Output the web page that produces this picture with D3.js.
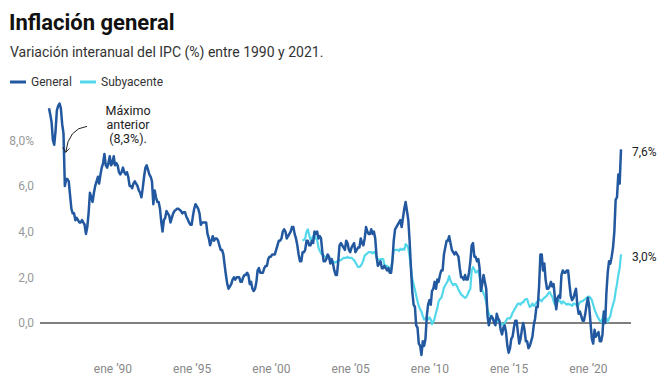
<!DOCTYPE html>
<html><head><meta charset="utf-8">
<script src="https://cdn.jsdelivr.net/npm/d3@7"></script>
<style>
body{margin:0;background:#fff;}
svg{display:block;font-family:Roboto, "Noto Sans", sans-serif;}
</style>
</head><body>
<svg id="chart" width="672" height="392"></svg>
<script>
const titleText = "Inflación general";
const subtitleText = "Variación interanual del IPC (%) entre 1990 y 2021.";
const seriesNames = ["General", "Subyacente"];
const seriesColors = ["#22589f", "#53d8eb"];
const generalStart = [1986, 0];
const subyacenteStart = [2002, 0];

// Monthly year-on-year CPI change (%), Jan 1986 - Feb 2022
const general = [
  9.4, 9.1, 8.8, 8.0, 7.8, 8.4, 9.3, 9.5, 9.6, 9.4, 8.7, 8.3,
  6.0, 6.3, 6.3, 6.2, 5.6, 5.0, 4.8, 4.8, 4.5, 4.6, 4.5, 4.4,
  4.4, 4.5, 4.4, 4.3, 3.9, 4.2, 4.8, 5.7, 5.5, 5.3, 5.7, 6.0,
  6.2, 6.4, 6.1, 6.5, 6.8, 7.0, 7.4, 6.9, 6.8, 7.0, 7.3, 6.9,
  7.0, 7.3, 6.9, 7.0, 6.9, 6.6, 6.5, 6.6, 6.8, 6.6, 6.5, 6.6,
  6.4, 6.0, 6.0, 5.9, 6.1, 6.2, 6.1, 6.0, 5.8, 5.7, 5.5, 5.9,
  6.4, 6.8, 6.9, 6.7, 6.5, 6.4, 6.2, 5.2, 5.8, 5.5, 5.3, 5.3,
  5.0, 4.4, 4.0, 4.5, 4.6, 4.9, 4.8, 4.7, 4.4, 4.6, 4.8, 4.9,
  4.95, 5.0, 5.0, 4.95, 4.9, 4.8, 4.85, 4.85, 4.65, 4.55, 4.4, 4.3,
  4.3, 4.7, 5.0, 5.2, 5.1, 5.0, 4.8, 4.3, 4.4, 4.4, 4.4, 4.4,
  3.9, 3.7, 3.4, 3.6, 3.8, 3.6, 3.7, 3.7, 3.6, 3.4, 3.2, 3.2,
  3.0, 2.5, 2.1, 1.7, 1.5, 1.6, 1.7, 1.9, 2.0, 1.9, 2.0, 2.0,
  2.0, 1.8, 1.8, 2.0, 2.1, 2.1, 2.2, 2.1, 1.7, 1.8, 1.5, 1.4,
  1.5, 1.8, 2.3, 2.4, 2.2, 2.2, 2.2, 2.4, 2.5, 2.5, 2.8, 2.9,
  2.9, 3.0, 3.0, 3.0, 3.2, 3.4, 3.6, 3.6, 3.7, 4.0, 4.1, 4.0,
  3.7, 3.8, 3.9, 4.0, 4.2, 4.2, 3.9, 3.7, 3.4, 3.0, 2.7, 2.7,
  3.1, 3.1, 3.2, 3.6, 3.6, 3.4, 3.4, 3.6, 3.5, 4.0, 3.9, 4.0,
  3.7, 3.8, 3.7, 3.1, 2.7, 2.7, 2.8, 3.0, 2.9, 2.6, 2.8, 2.6,
  2.3, 2.1, 2.1, 2.7, 3.4, 3.5, 3.4, 3.3, 3.2, 3.6, 3.5, 3.2,
  3.1, 3.3, 3.4, 3.5, 3.1, 3.2, 3.3, 3.3, 3.7, 3.5, 3.4, 3.7,
  4.2, 4.0, 3.9, 3.9, 4.1, 3.9, 4.0, 3.7, 2.9, 2.5, 2.6, 2.7,
  2.4, 2.4, 2.5, 2.4, 2.3, 2.4, 2.2, 2.2, 2.7, 3.6, 4.1, 4.2,
  4.3, 4.4, 4.5, 4.2, 4.6, 5.0, 5.3, 4.9, 4.5, 3.6, 2.4, 1.4,
  0.8, 0.7, -0.1, -0.2, -0.9, -1.0, -1.4, -0.8, -1.0, -0.7, 0.3, 0.8,
  1.0, 0.8, 1.4, 1.5, 1.8, 1.5, 1.9, 1.8, 2.1, 2.3, 2.3, 3.0,
  3.3, 3.6, 3.6, 3.8, 3.5, 3.2, 3.1, 3.0, 3.1, 3.0, 2.9, 2.4,
  2.0, 2.0, 1.9, 2.1, 1.9, 1.9, 2.2, 2.7, 3.4, 3.5, 2.9, 2.9,
  2.7, 2.8, 2.4, 1.4, 1.7, 2.1, 1.8, 1.5, 0.3, -0.1, 0.2, 0.3,
  0.2, 0.0, -0.1, 0.4, 0.2, 0.1, -0.3, -0.5, -0.2, -0.1, -0.4, -1.0,
  -1.3, -1.1, -0.7, -0.6, -0.2, 0.1, 0.1, -0.4, -0.9, -0.7, -0.3, 0.0,
  -0.3, -0.8, -0.8, -1.1, -1.0, -0.8, -0.6, -0.1, 0.2, 0.7, 0.7, 1.6,
  3.0, 3.0, 2.3, 2.6, 1.9, 1.5, 1.5, 1.6, 1.8, 1.6, 1.7, 1.1,
  0.6, 1.1, 1.2, 1.1, 2.1, 2.3, 2.2, 2.2, 2.3, 2.3, 1.7, 1.2,
  1.0, 1.1, 1.3, 1.5, 0.8, 0.4, 0.5, 0.3, 0.1, 0.1, 0.4, 0.8,
  1.1, 0.7, 0.0, -0.7, -0.9, -0.3, -0.6, -0.5, -0.4, -0.8, -0.8, -0.5,
  0.5, 0.0, 1.3, 2.2, 2.7, 2.6, 2.9, 3.3, 4.0, 5.4, 5.5, 6.5,
  6.1, 7.6
];

// Monthly core inflation (%), Jan 2002 - Feb 2022
const subyacente = [
  3.6, 3.65, 3.7, 4.0, 4.1, 3.85, 3.65, 3.7, 3.8, 3.85, 3.7, 3.65,
  3.3, 3.15, 3.05, 3.0, 2.95, 2.9, 2.9, 2.85, 2.85, 2.8, 2.75, 2.7,
  2.65, 2.65, 2.7, 2.7, 2.75, 2.75, 2.8, 2.85, 2.85, 2.85, 2.9, 2.85,
  2.85, 2.85, 2.8, 2.75, 2.65, 2.55, 2.45, 2.45, 2.5, 2.6, 2.75, 2.95,
  3.0, 3.05, 3.1, 3.1, 3.1, 3.05, 3.1, 3.1, 2.85, 2.8, 2.75, 2.8,
  2.8, 2.8, 2.55, 2.5, 2.5, 2.45, 2.4, 2.35, 2.8, 3.15, 3.2, 3.2,
  3.2, 3.15, 3.25, 3.2, 3.25, 3.2, 3.45, 3.4, 3.27, 2.9, 2.45, 1.95,
  1.7, 1.45, 1.2, 0.95, 0.75, 0.6, 0.5, 0.3, 0.15, 0.2, 0.2, 0.15,
  0.25, 0.15, -0.05, 0.05, 0.2, 0.45, 0.65, 0.95, 1.05, 1.1, 1.3, 1.55,
  1.65, 1.75, 1.85, 2.05, 1.85, 1.75, 1.65, 1.7, 1.7, 1.6, 1.45, 1.35,
  1.25, 1.2, 1.15, 1.1, 1.15, 1.25, 1.4, 1.5, 2.3, 2.45, 2.35, 2.2,
  2.25, 2.3, 2.05, 1.7, 1.45, 1.3, 1.15, 0.9, 0.6, 0.4, 0.3, 0.2,
  0.2, 0.1, 0.05, 0.05, 0.1, 0.05, 0.0, -0.05, -0.1, 0.0, 0.1, 0.2,
  0.2, 0.2, 0.3, 0.45, 0.55, 0.65, 0.75, 0.85, 0.85, 0.8, 0.9, 0.9,
  1.0, 1.05, 1.05, 0.85, 0.7, 0.75, 0.85, 0.75, 0.8, 0.9, 0.95, 1.05,
  1.0, 0.95, 1.05, 1.1, 1.15, 1.2, 1.3, 1.35, 1.25, 1.15, 0.95, 0.8,
  0.85, 0.95, 1.0, 0.95, 0.85, 0.95, 0.9, 0.85, 0.8, 0.85, 0.8, 0.8,
  0.75, 0.85, 0.85, 0.8, 0.75, 0.8, 0.9, 0.95, 0.95, 1.0, 1.05, 1.1,
  1.15, 1.15, 1.1, 1.0, 0.8, 0.6, 0.45, 0.3, 0.2, 0.1, 0.05, 0.2,
  0.4, 0.2, 0.2, 0.05, 0.2, 0.3, 0.6, 0.8, 1.0, 1.4, 1.7, 2.1,
  2.4, 3.0
];

const yTicks = [0, 2, 4, 6, 8];
const xTickYears = [1990, 1995, 2000, 2005, 2010, 2015, 2020];
const annotationLines = ["Máximo", "anterior", "(8,3%)."];
const annotationDate = [1986, 11];
const annotationValue = 8.3;

const toSeries = (vals, start) => vals.map((v, i) => ({date: new Date(start[0], start[1] + i, 1), value: v}));
const genData = toSeries(general, generalStart);
const coreData = toSeries(subyacente, subyacenteStart);

const svg = d3.select("#chart");
const x = d3.scaleTime()
  .domain([new Date(1986, 0, 1), new Date(2022, 1, 1)])
  .range([49, 621]);
const y = d3.scaleLinear().domain([0, 8]).range([323, 140.2]);

// Title & subtitle
svg.append("text").attr("x", 9).attr("y", 30)
  .attr("font-size", 22).attr("font-weight", 700).attr("fill", "#111")
  .text(titleText);
svg.append("text").attr("x", 10).attr("y", 57)
  .attr("font-size", 14).attr("fill", "#333")
  .text(subtitleText);

// Legend
const legendX = [10, 80];
seriesNames.forEach((name, i) => {
  const g = svg.append("g").attr("transform", `translate(${legendX[i]},82)`);
  g.append("line").attr("x1", 0).attr("x2", 16).attr("y1", 0).attr("y2", 0)
    .attr("stroke", seriesColors[i]).attr("stroke-width", 3);
  g.append("text").attr("x", 21).attr("dy", "0.35em")
    .attr("font-size", 12).attr("fill", "#333").text(name);
});

// Y axis
const fmtY = d => d3.format(".1f")(d).replace(".", ",") + (d === 8 ? "%" : "");
const yAxis = svg.append("g").attr("transform", "translate(40,0)")
  .call(d3.axisLeft(y).tickValues(yTicks).tickSize(0).tickPadding(6).tickFormat(fmtY));
yAxis.select(".domain").remove();
yAxis.selectAll("text").attr("font-size", 12).attr("fill", "#999").attr("font-family", "Roboto, sans-serif");

// X axis
const xAxis = svg.append("g").attr("transform", "translate(0,360)")
  .call(d3.axisBottom(x)
    .tickValues(xTickYears.map(yy => new Date(yy, 0, 1)))
    .tickSize(0).tickPadding(4)
    .tickFormat(d => "ene \u2019" + String(d.getFullYear()).slice(2)));
xAxis.select(".domain").remove();
xAxis.selectAll("text").attr("font-size", 12).attr("fill", "#888").attr("font-family", "Roboto, sans-serif");

// Zero line
svg.append("line").attr("x1", 40).attr("x2", 631)
  .attr("y1", y(0)).attr("y2", y(0))
  .attr("stroke", "#000").attr("stroke-width", 1);

// Lines
const line = d3.line().x(d => x(d.date)).y(d => y(d.value));
svg.append("path").datum(coreData).attr("d", line)
  .attr("fill", "none").attr("stroke", seriesColors[1]).attr("stroke-width", 2.2)
  .attr("stroke-linejoin", "round");
svg.append("path").datum(genData).attr("d", line)
  .attr("fill", "none").attr("stroke", seriesColors[0]).attr("stroke-width", 2.5)
  .attr("stroke-linejoin", "round");

// End labels
const fmtEnd = v => d3.format(".1f")(v).replace(".", ",") + "%";
[genData, coreData].forEach(series => {
  const last = series[series.length - 1];
  svg.append("text").attr("x", x(last.date) + 11).attr("y", y(last.value) + 2)
    .attr("dy", "0.35em").attr("font-size", 12).attr("fill", "#222")
    .text(fmtEnd(last.value));
});

// Annotation
const ax = x(new Date(annotationDate[0], annotationDate[1], 1));
const ay = y(annotationValue);
const ann = svg.append("text").attr("text-anchor", "middle")
  .attr("font-size", 12.5).attr("fill", "#222");
annotationLines.forEach((t, i) => {
  ann.append("tspan").attr("x", ax + 64.5).attr("y", ay - 18 + i * 14).text(t);
});
const tip = [ax + 2.2, ay + 19];
svg.append("path")
  .attr("d", `M${ax + 23.5},${ay - 7} Q${ax + 5},${ay - 5} ${tip[0]},${tip[1]}`)
  .attr("fill", "none").attr("stroke", "#222").attr("stroke-width", 1);
svg.append("path")
  .attr("d", `M${tip[0] - 3},${tip[1] - 5} L${tip[0]},${tip[1]} L${tip[0] + 3.8},${tip[1] - 4}`)
  .attr("fill", "none").attr("stroke", "#222").attr("stroke-width", 1);
</script>
</body></html>
